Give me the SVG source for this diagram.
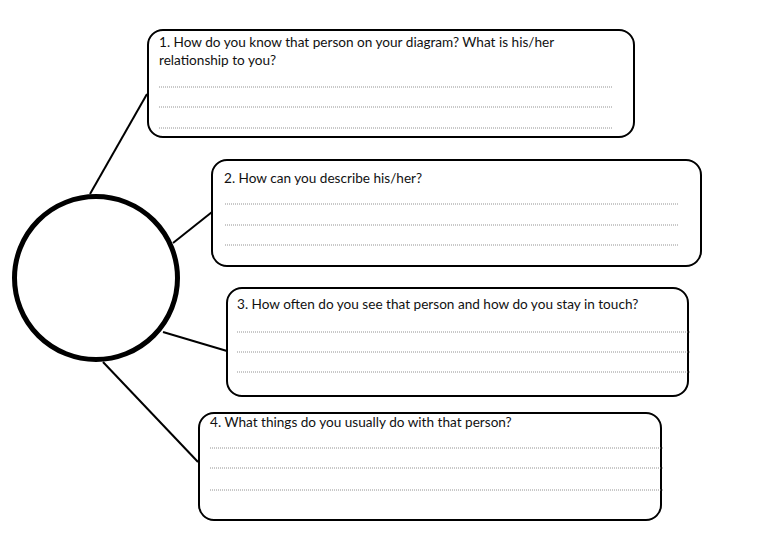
<svg xmlns="http://www.w3.org/2000/svg" width="768" height="543" viewBox="0 0 768 543">
<style>
.box{fill:#fff;stroke:#000;stroke-width:2}
.q{font-family:Lato,"Liberation Sans",sans-serif;font-size:13.6px;fill:#111}
.dot{stroke:#777;stroke-width:0.8;stroke-dasharray:1 1;fill:none}
.conn{stroke:#000;stroke-width:2;fill:none}
</style>
<rect width="768" height="543" fill="#fff"/>
<g id="connectors">
<line class="conn" x1="90" y1="194" x2="147" y2="94"/>
<line class="conn" x1="173" y1="243" x2="212" y2="212"/>
<line class="conn" x1="163" y1="332" x2="227" y2="351"/>
<line class="conn" x1="103" y1="362" x2="198" y2="462"/>
</g>
<g id="center">
<circle cx="96" cy="278" r="81.5" fill="#fff" stroke="#000" stroke-width="5"/>
</g>
<g id="q1">
<rect class="box" x="148" y="30" width="486" height="107" rx="15"/>
<text class="q" x="159" y="47">1. How do you know that person on your diagram? What is his/her</text>
<text class="q" x="159" y="65">relationship to you?</text>
<line class="dot" x1="159" y1="87" x2="613" y2="87"/>
<line class="dot" x1="159" y1="107" x2="613" y2="107"/>
<line class="dot" x1="159" y1="128" x2="613" y2="128"/>
</g>
<g id="q2">
<rect class="box" x="212" y="160" width="489" height="106" rx="15"/>
<text class="q" x="224" y="183">2. How can you describe his/her?</text>
<line class="dot" x1="225" y1="204" x2="678" y2="204"/>
<line class="dot" x1="225" y1="225" x2="678" y2="225"/>
<line class="dot" x1="225" y1="245" x2="678" y2="245"/>
</g>
<g id="q3">
<rect class="box" x="227" y="288" width="461" height="108" rx="15"/>
<text class="q" x="237" y="309">3. How often do you see that person and how do you stay in touch?</text>
<line class="dot" x1="237" y1="332" x2="690" y2="332"/>
<line class="dot" x1="237" y1="352" x2="690" y2="352"/>
<line class="dot" x1="237" y1="372" x2="690" y2="372"/>
</g>
<g id="q4">
<rect class="box" x="199" y="413" width="462" height="107" rx="15"/>
<text class="q" x="210" y="427">4. What things do you usually do with that person?</text>
<line class="dot" x1="210" y1="448" x2="663" y2="448"/>
<line class="dot" x1="210" y1="468" x2="663" y2="468"/>
<line class="dot" x1="210" y1="490" x2="663" y2="490"/>
</g>
</svg>
